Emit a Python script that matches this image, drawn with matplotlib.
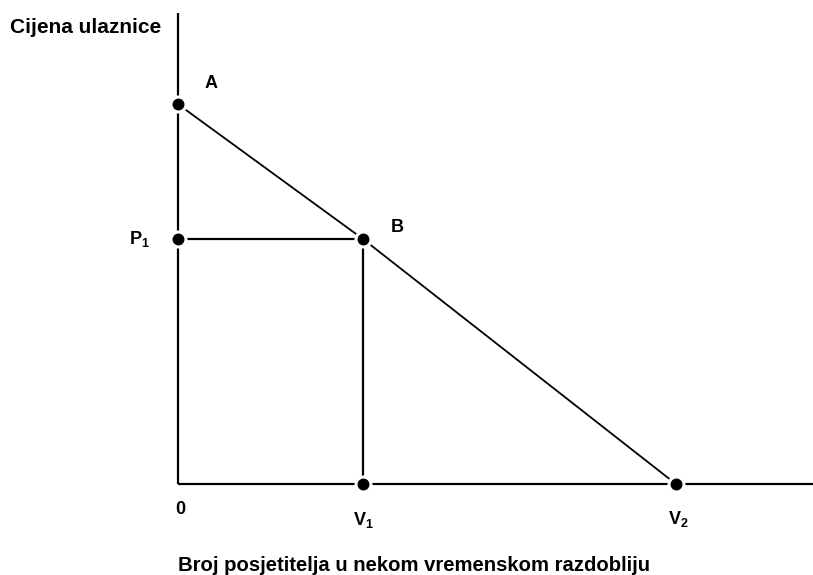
import matplotlib.pyplot as plt

plt.rcParams['font.family'] = ['Liberation Sans', 'DejaVu Sans']
plt.rcParams['mathtext.fontset'] = 'custom'
plt.rcParams['mathtext.bf'] = 'Liberation Sans:bold'
plt.rcParams['mathtext.rm'] = 'Liberation Sans:bold'

# diagram values (quantity on x, ticket price on y)
price_a = 10.0     # A: price at which nobody comes
price_p1 = 6.45    # P1
qty_v1 = 3.67      # V1
qty_v2 = 9.88      # V2
x_end = 12.6       # where the quantity axis stops
y_end = 12.4       # top of the price axis

point_names = ['A', 'B', r'$\mathbf{P_1}$', r'$\mathbf{V_1}$', r'$\mathbf{V_2}$']
point_x = [0, qty_v1, 0, qty_v1, qty_v2]
point_y = [price_a, price_p1, price_p1, 0, 0]
label_offsets = [(24, 15), (25, 8), (-28, 0), (0, -26), (2, -25)]

fig = plt.figure(figsize=(8.13, 5.75), dpi=100)
ax = fig.add_axes([178 / 813, 91 / 575, 635 / 813, 471 / 575])
ax.set_xlim(0, x_end)
ax.set_ylim(0, y_end)
ax.axis('off')

line_kw = dict(color='black', lw=1.6, solid_capstyle='butt', clip_on=False)
# axes
ax.plot([0, 0], [0, y_end], **line_kw)
ax.plot([0, x_end], [0, 0], **line_kw)
# demand line A -> B -> V2
ax.plot([0, qty_v1, qty_v2], [price_a, price_p1, 0], color='black', lw=1.3, clip_on=False)
# P1 -> B and B -> V1
ax.plot([0, qty_v1], [price_p1, price_p1], **line_kw)
ax.plot([qty_v1, qty_v1], [price_p1, 0], **line_kw)

ax.plot(point_x, point_y, 'o', color='black', ms=10.8, mec='white', mew=2.2,
        clip_on=False, zorder=5)

for name, px, py, off in zip(point_names, point_x, point_y, label_offsets):
    ax.annotate(name, (px, py), xytext=off, textcoords='offset points',
                ha='center', va='center', fontsize=13, fontweight='bold')

ax.annotate('0', (0, 0), xytext=(2, -18), textcoords='offset points',
            ha='center', va='center', fontsize=13, fontweight='bold')

fig.text(10 / 813, 1 - 33 / 575, 'Cijena ulaznice', ha='left', va='baseline',
         fontsize=15, fontweight='bold')
fig.text(178 / 813, 1 - 571 / 575, 'Broj posjetitelja u nekom vremenskom razdobliju',
         ha='left', va='baseline', fontsize=14.6, fontweight='bold')

fig.savefig('out.png', dpi=100)
